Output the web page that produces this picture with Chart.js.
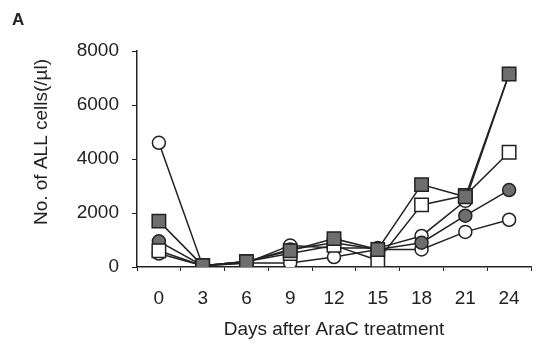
<!DOCTYPE html>
<html>
<head>
<meta charset="utf-8">
<script src="https://cdn.jsdelivr.net/npm/chart.js@4.4.1/dist/chart.umd.min.js"></script>
<style>
  html, body { margin: 0; padding: 0; background: #fff; }
  #wrap { width: 542px; height: 345px; position: relative; }
</style>
</head>
<body>
<div id="wrap"><canvas id="chart"></canvas></div>
<script>
// Data
const days = ['0', '3', '6', '9', '12', '15', '18', '21', '24'];
const yTicks = [0, 2000, 4000, 6000, 8000];

const openCircleA = [4600, 50, 150, 150, 370, 650, 650, 1300, 1750];
const filledSquare = [1700, 50, 200, 600, 1050, 650, 3050, 2600, 7150];
const openSquare = [600, 50, 200, 500, 800, 250, 2300, 2650, 4250];
const filledCircle = [950, 50, 200, 650, 900, 650, 900, 1900, 2850];
const openCircleB = [500, 50, 150, 800, 700, 700, 1150, 2450, 7150];

const INK = '#222';
const GRAY = '#6e6e6e';
const FONT = "'Liberation Sans', Arial, sans-serif";

Chart.defaults.font.family = FONT;
Chart.defaults.color = INK;

function series(data, shape, fill) {
    return {
        data: data,
        borderColor: INK,
        borderWidth: 1.5,
        pointStyle: shape,
        pointRadius: shape === 'rect' ? 9.5 : 6.5,
        pointBorderWidth: 1.5,
        pointBorderColor: INK,
        pointBackgroundColor: fill,
        tension: 0,
        fill: false
    };
}

// panel letter + rotated y title
const extraText = {
    id: 'extraText',
    afterDraw(chart) {
        const ctx = chart.ctx;
        ctx.save();
        ctx.fillStyle = INK;
        ctx.font = 'bold 17px ' + FONT;
        ctx.textBaseline = 'middle';
        ctx.fillText('A', 12, 20);
        ctx.translate(42, 142);
        ctx.rotate(-Math.PI / 2);
        ctx.font = '19px ' + FONT;
        ctx.textAlign = 'center';
        ctx.fillText('No. of ALL cells(/µl)', 0, 0);
        ctx.restore();
    }
};

new Chart(document.getElementById('chart'), {
    type: 'line',
    data: {
        labels: days,
        datasets: [
            series(filledSquare, 'rect', GRAY),
            series(openSquare, 'rect', '#fff'),
            series(filledCircle, 'circle', GRAY),
            series(openCircleA, 'circle', '#fff'),
            series(openCircleB, 'circle', '#fff')
        ]
    },
    options: {
        responsive: true,
        maintainAspectRatio: false,
        animation: false,
        layout: { padding: { top: 51, right: 0, bottom: 0, left: 0 } },
        plugins: {
            legend: { display: false },
            tooltip: { enabled: false }
        },
        scales: {
            x: {
                type: 'category',
                offset: true,
                border: { color: INK, width: 1.5 },
                grid: { offset: true, drawOnChartArea: false, tickLength: 4, color: INK },
                ticks: { font: { size: 19 }, padding: 16, color: INK, maxRotation: 0 },
                title: {
                    display: true,
                    text: 'Days after AraC treatment',
                    font: { size: 19 },
                    color: INK,
                    padding: { top: 0, bottom: 4 }
                },
                afterFit(scale) { scale.height = 78; }
            },
            y: {
                min: 0,
                max: 8000,
                afterBuildTicks(scale) { scale.ticks = yTicks.map(v => ({ value: v })); },
                border: { color: INK, width: 1.5 },
                grid: { drawOnChartArea: false, tickLength: 5, color: INK },
                ticks: { font: { size: 19 }, padding: 13, color: INK, callback: v => String(v) },
                afterFit(scale) { scale.width = 137; }
            }
        }
    },
    plugins: [extraText]
});
</script>
</body>
</html>
